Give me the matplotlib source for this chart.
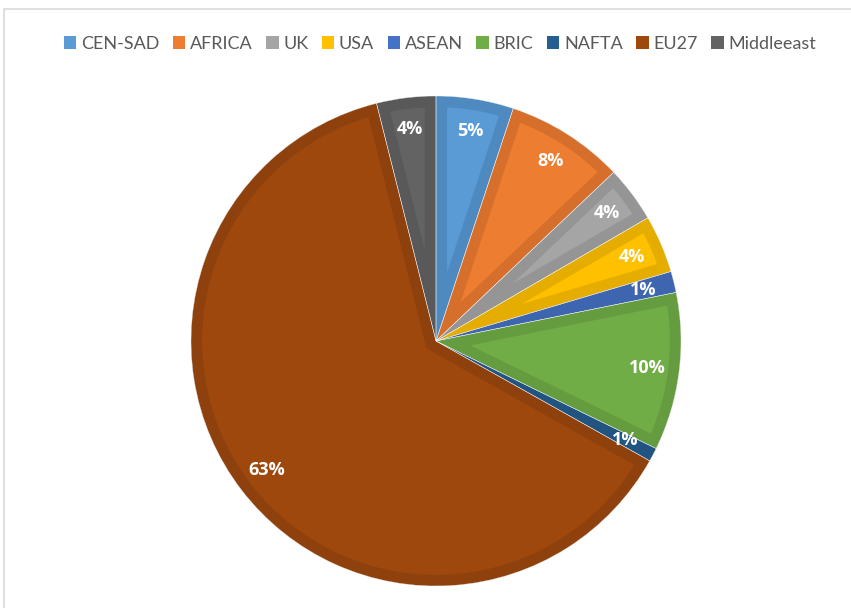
import matplotlib.pyplot as plt
from matplotlib.patches import Rectangle

# Share by region, read clockwise from 12 o'clock
regions = ["CEN-SAD", "AFRICA", "UK", "USA", "ASEAN", "BRIC", "NAFTA", "EU27", "Middleeast"]
shares = [5.1, 7.8, 3.7, 3.8, 1.4, 10.4, 0.9, 62.9, 3.9]

# Fill colours and the darker inner border of each slice
fills = ["#5B9BD5", "#ED7D31", "#A5A5A5", "#FFC000", "#4472C4",
         "#70AD47", "#255E91", "#9E480E", "#636363"]
borders = ["#4E89C0", "#D66F2B", "#959595", "#E5AD00", "#3E66B0",
           "#659C40", "#215480", "#8E410D", "#595959"]

fig = plt.figure(figsize=(8.51, 6.08), dpi=100)

# light frame round the chart area
fig.patches.append(Rectangle((4 / 851, -0.1), 1.2, 1 - 9 / 608 + 0.1,
                             transform=fig.transFigure, fill=False,
                             edgecolor="#D9D9D9", linewidth=1.2))

cx, cy, r = 436, 341, 245
ax = fig.add_axes([(cx - r) / 851, (608 - cy - r) / 608, 2 * r / 851, 2 * r / 608])

wedges, _, autotexts = ax.pie(
    shares, colors=fills, startangle=90, counterclock=False,
    autopct="%.0f%%", pctdistance=0.87,
    textprops=dict(color="white", fontsize=13, fontweight="bold", family="Open Sans"),
)

# darker border inside every slice: a thick edge clipped to the slice itself
for w, b in zip(wedges, borders):
    w.set_edgecolor(b)
    w.set_linewidth(16)
    w.set_clip_on(True)
    w.set_clip_path(w)

# faint seams between slices
ax.pie(shares, colors=["none"] * len(shares), startangle=90, counterclock=False,
       wedgeprops=dict(edgecolor="#F2F2F2", linewidth=0.3))

ax.set_xlim(-1, 1)
ax.set_ylim(-1, 1)
ax.set_aspect("equal")
ax.axis("off")

handles = [Rectangle((0, 0), 1, 1, facecolor=c) for c in fills]
fig.legend(handles, regions, loc="center", bbox_to_anchor=(0.517, 1 - 44 / 608),
           ncol=len(regions), frameon=False,
           prop=dict(family="Lato", size=13),
           handlelength=0.7, handleheight=0.7, handletextpad=0.25,
           columnspacing=0.75, labelcolor="#595959")

fig.savefig("out.png", dpi=100)
